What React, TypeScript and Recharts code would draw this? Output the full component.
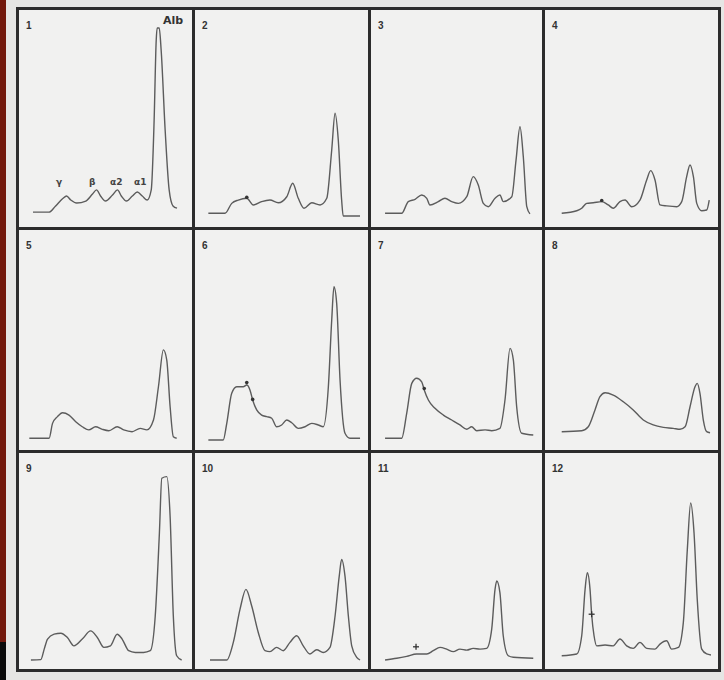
import React from "react";
import { LineChart, Line, XAxis, YAxis, ReferenceDot } from "recharts";

// Densitometry scans: [mobility (0 cathode .. 100 anode), relative density]
const trace1 = [[5,3],[15,3],[19,6],[23.6,10],[26,11.3],[28.6,9.2],[32.3,7.7],[38,8.7],[42.2,12.3],[44.7,14.4],[47.2,11.3],[50.3,8.7],[54.7,11.8],[57.8,14.4],[60.2,11.3],[63.4,8.7],[67.1,11.3],[70.2,13.3],[73.3,11.3],[76.4,9.2],[78.9,14.4],[80.7,50],[82,91],[82.6,97.4],[83.9,97.4],[85.1,86],[87.6,45],[90.1,14.4],[92.5,6.2],[95,5.1]];
const trace2 = [[4.6,2.4],[15,2.4],[19.2,7.5],[23.3,9.2],[28.6,10.1],[32.7,6.7],[37.9,8.4],[43.1,9.2],[48.3,7.8],[53.6,10.9],[57.3,17.8],[60.8,10.1],[64.4,5],[69.2,7.8],[74.4,6.7],[78.6,10.1],[81.7,34.9],[83.8,53.7],[85.8,40],[87.9,9.2],[88.9,1],[99.4,1]];
const trace3 = [[5.1,2.4],[15.6,2.4],[19.8,8.4],[24.1,9.6],[28.3,11.8],[31.5,10.1],[33.5,6.7],[38.8,8.4],[43,10.1],[47.3,8.4],[51.5,7.5],[56.8,10.9],[60.9,21.2],[64.1,16.9],[67.3,7.5],[70.4,5.8],[74.7,10.1],[77.8,11.8],[79.9,8.4],[85.3,10.9],[88,29.7],[90.5,46.8],[92.6,31.4],[94.8,5.8],[96.8,2.1]];
const trace4 = [[6.7,2.4],[16.1,3.7],[19.2,5],[22.3,7.5],[26.4,7.8],[31.7,8.4],[35.8,6.7],[38.9,5],[43.1,8.4],[46.3,9.2],[50.4,5.8],[55.6,9.2],[59.8,19.5],[62.3,24.3],[65,19.5],[68.1,6.7],[72.3,6.2],[78.6,5.8],[81.7,8.4],[84.8,21.2],[86.9,27.2],[89,21.2],[91.1,7.5],[94.2,3.7],[97.3,4.1],[98.9,9.2]];
const trace5 = [[2.7,1.4],[15.1,1.4],[17.2,8.9],[20.3,12.3],[23.4,14.3],[27.5,13.1],[31.7,9.7],[35.8,7.2],[39.9,5.6],[44.1,7.2],[48.3,5.9],[52.4,5.2],[57.6,7.2],[61.7,5.6],[66.9,4.7],[72,6.4],[76.2,5.6],[80.3,10.6],[83.4,27.4],[86.5,46],[88.6,40.9],[90.7,17.3],[92.7,2.2],[94.8,1.4]];
const trace6 = [[4.6,0.5],[13.9,0.5],[16.1,8.9],[19.2,24.1],[22.3,27.4],[26.4,27.4],[28.6,28.3],[30.6,25.8],[32.3,20.7],[34.8,15.7],[37.9,13.1],[41.1,12.3],[44.2,11.5],[47.3,7.2],[50.4,8.1],[53.6,10.6],[56.7,9.2],[60.8,6.4],[65,7.2],[69.2,8.9],[73.3,8.1],[76.4,7.2],[79.6,27.4],[81.7,61.1],[83.1,77.9],[84.8,69.5],[86.9,30.8],[90,3.9],[93.1,1.4],[99.4,1.4]];
const trace7 = [[5.1,1.4],[15.6,1.4],[18.8,14],[22,29.1],[25.1,31.7],[28.3,29.9],[29.9,25.8],[32.5,20.7],[36.7,16.5],[42,13.1],[47.3,10.6],[52.5,8.1],[56.8,5.9],[59.9,7.2],[63.1,5.2],[68.4,5.6],[72.6,5.2],[77.8,6.4],[81,20.7],[84.2,46.8],[86.3,40.9],[88.4,17.3],[91.6,3.9],[98.9,3]];
const trace8 = [[6.7,4.7],[19.2,5.2],[23.3,7.2],[27.5,15.7],[30.6,22.4],[33.8,24.4],[38.9,23.2],[45.2,19.8],[51.4,15.7],[57.7,10.6],[63.9,8.1],[70.2,6.9],[76.4,6.4],[80.6,5.9],[83.8,7.2],[86.9,17.3],[90,27.4],[91.4,29.1],[93.1,24.1],[95.2,10.6],[97.3,4.7],[99.4,4.2]];
const trace9 = [[3.7,0],[9.9,0.2],[12,5.6],[14.1,10.8],[18.2,13.3],[22.4,13.8],[26.5,11.6],[30.6,7.3],[35.8,10.8],[41,15],[45.2,11.6],[49.3,6.5],[53.4,7.3],[57.6,13.3],[60.7,10.8],[64.8,4.8],[68.9,3.9],[74.1,3.9],[78.3,4.8],[81.4,22.7],[84,65.5],[85.5,93.7],[88.6,94.5],[90.7,74],[92.7,22.7],[94.8,2.2],[97.9,0]];
const trace10 = [[5.6,0],[16.1,0],[20.2,9.1],[24.4,26.2],[28.1,36.4],[31.7,27.8],[35.8,14.2],[40,4.8],[43.1,4.3],[47.3,6.5],[51.4,4.8],[55.6,9.1],[59.8,12.5],[63.9,7.3],[68.1,3.1],[72.3,5.3],[76.4,3.9],[80.6,6.5],[83.8,22.7],[86.4,43.2],[87.9,51.8],[90,43.2],[92.1,22.7],[94.2,7.3],[97.3,1.4],[99.4,0]];
const trace11 = [[5.1,0],[12.5,0.9],[18.8,1.9],[25.1,3.1],[31.5,3.1],[35.6,4.8],[39.9,6.5],[44.1,5.6],[48.3,4.3],[52.5,5.6],[56.8,5.1],[60.9,6],[65.2,5.6],[69.4,6],[72.6,15.9],[74.7,36.4],[75.8,40.7],[77.8,34.7],[79.9,12.5],[83.1,2.2],[86.3,1.4],[98.9,0.9]];
const trace12 = [[6.7,2.2],[16.1,3.1],[19.2,12.5],[21.3,36.4],[22.7,45],[24.4,36.4],[25.4,23.6],[26.9,12.5],[28.6,7.3],[33.8,7.7],[38.9,7.3],[43.1,10.8],[47.3,7.3],[51.4,6],[55.6,9.1],[59.8,6],[65,5.6],[68.1,8.2],[72.3,9.9],[75.4,5.6],[79.6,6.5],[82.7,19.3],[85.2,56.9],[87.3,80.9],[89.4,65.5],[91.4,31.3],[94.2,5.6],[97.3,3.1],[100,2.6]];

const traces = [trace1, trace2, trace3, trace4, trace5, trace6, trace7, trace8, trace9, trace10, trace11, trace12];
const panelLabels = ["1", "2", "3", "4", "5", "6", "7", "8", "9", "10", "11", "12"];

// small hand marks on the strips: [panel index, mobility, density, kind]
const marks: [number, number, number, string][] = [
  [1, 28.6, 10.6, "dot"],
  [3, 31.7, 9, "dot"],
  [5, 28.6, 29.5, "dot"],
  [5, 32.3, 21, "dot"],
  [6, 29.9, 26.5, "dot"],
  [10, 24.7, 6.8, "cross"],
  [11, 25.4, 23.6, "cross"],
];

const fractionLabels = ["γ", "β", "α2", "α1"];

const COLS = [17, 193, 369, 543, 719];
const ROWS = [8, 228, 451, 670];
const INK = "#2c2c2c";

function Mark(props: any) {
  const { cx, cy, kind } = props;
  if (kind === "cross") {
    return (
      <g stroke="#333" strokeWidth={1.3}>
        <line x1={cx - 3} y1={cy} x2={cx + 3} y2={cy} />
        <line x1={cx} y1={cy - 3} x2={cx} y2={cy + 3} />
      </g>
    );
  }
  return <circle cx={cx} cy={cy} r={1.8} fill="#333" />;
}

function Panel({ idx }: { idx: number }) {
  const c = idx % 4;
  const r = Math.floor(idx / 4);
  const w = COLS[c + 1] - COLS[c];
  const h = ROWS[r + 1] - ROWS[r];
  const data = traces[idx].map(([x, y]) => ({ x, y }));
  return (
    <div style={{ position: "absolute", left: COLS[c], top: ROWS[r], width: w, height: h }}>
      <LineChart width={w} height={h} data={data} margin={{ top: 15, right: 8, bottom: 10, left: 8 }}>
        <XAxis type="number" dataKey="x" domain={[0, 100]} hide />
        <YAxis type="number" domain={[0, 100]} hide />
        <Line type="monotone" dataKey="y" stroke="#5c5c5c" strokeWidth={1.4} dot={false} isAnimationActive={false} />
        {marks
          .filter((m) => m[0] === idx)
          .map((m, i) => (
            <ReferenceDot key={i} x={m[1]} y={m[2]} r={2} shape={(p: any) => <Mark {...p} kind={m[3]} />} />
          ))}
      </LineChart>
      <div style={{ position: "absolute", left: 9, top: 12, fontSize: 10, fontWeight: 700, color: "#333", fontFamily: "'Liberation Sans', Arial, sans-serif" }}>
        {panelLabels[idx]}
      </div>
    </div>
  );
}

export default function App() {
  const labelStyle: React.CSSProperties = { position: "absolute", fontSize: 10, fontWeight: 700, color: "#444", fontFamily: "'DejaVu Sans', sans-serif", lineHeight: 1 };
  const fracPos = [43, 76, 97, 121];
  return (
    <div style={{ position: "absolute", left: 0, top: 0, width: 724, height: 680, background: "#e6e6e4", overflow: "hidden" }}>
      <div style={{ position: "absolute", left: 0, top: 0, width: 6, height: 642, background: "#73190c" }} />
      <div style={{ position: "absolute", left: 0, top: 642, width: 6, height: 38, background: "#0a0a0a" }} />
      <div style={{ position: "absolute", left: COLS[0], top: ROWS[0], width: COLS[4] - COLS[0], height: ROWS[3] - ROWS[0], background: "#f1f1f0" }} />
      {traces.map((_, i) => (
        <Panel key={i} idx={i} />
      ))}
      {COLS.map((x, i) => (
        <div key={"v" + i} style={{ position: "absolute", left: x - 1.5, top: ROWS[0] - 1.5, width: 3, height: ROWS[3] - ROWS[0] + 3, background: INK }} />
      ))}
      {ROWS.map((y, i) => (
        <div key={"h" + i} style={{ position: "absolute", left: COLS[0] - 1.5, top: y - 1.5, width: COLS[4] - COLS[0] + 3, height: 3, background: INK }} />
      ))}
      <div style={{ ...labelStyle, left: COLS[0] + 146, top: ROWS[0] + 7, fontSize: 11, color: "#333" }}>Alb</div>
      {fractionLabels.map((t, i) => (
        <div key={t} style={{ ...labelStyle, left: COLS[0] + fracPos[i] - 4, top: ROWS[0] + 170, fontSize: 9 }}>
          {t}
        </div>
      ))}
    </div>
  );
}
